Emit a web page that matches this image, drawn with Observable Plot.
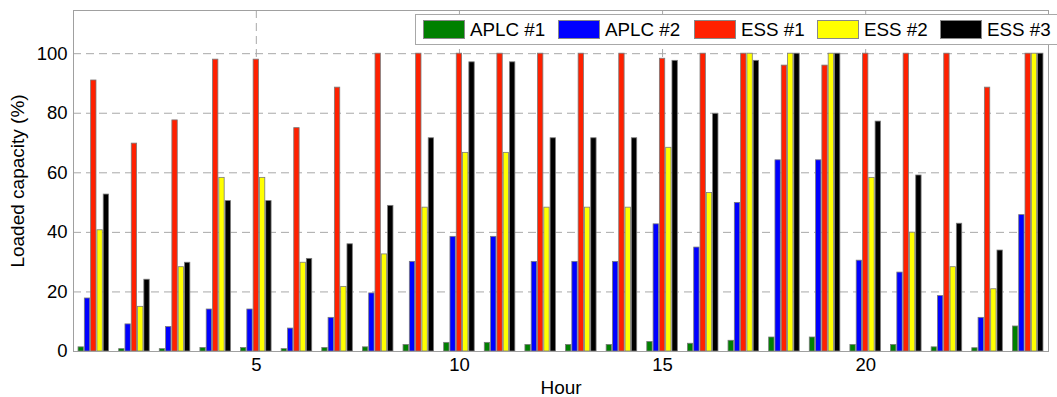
<!DOCTYPE html>
<html><head><meta charset="utf-8">
<script src="https://cdn.jsdelivr.net/npm/d3@7"></script>
<script src="https://cdn.jsdelivr.net/npm/@observablehq/plot@0.6"></script>
<style>
body{margin:0;background:#fff;font-family:"Liberation Sans",Arial,sans-serif;}
#wrap{position:relative;width:1057px;height:397px;overflow:hidden;}
#legend{position:absolute;left:415px;top:14px;height:31px;width:700px;border:1px solid #a8a8a8;background:#fff;box-sizing:border-box;}
.item{position:absolute;top:0;height:29px;display:flex;align-items:center}
.sw{width:42px;height:19px;border:1px solid #888;box-sizing:border-box;margin-right:5px}
.lb{font-size:18.8px;color:#000;white-space:nowrap}
</style></head><body><div id="wrap"></div>
<script>
const hours = [1,2,3,4,5,6,7,8,9,10,11,12,13,14,15,16,17,18,19,20,21,22,23,24];
const seriesNames = ["APLC #1","APLC #2","ESS #1","ESS #2","ESS #3"];
const seriesColors = ["#008000","#0000ff","#ff2000","#ffff00","#000000"];
const aplc1 = [1.4,0.8,0.8,1.2,1.2,0.8,1.2,1.4,2.2,2.9,2.9,2.2,2.2,2.2,3.2,2.6,3.6,4.7,4.7,2.2,2.2,1.4,1.1,8.4];
const aplc2 = [17.8,9.1,8.2,14.1,14.1,7.7,11.3,19.5,30.1,38.5,38.5,30.1,30.1,30.1,42.7,34.9,49.9,64.2,64.2,30.5,26.5,18.6,11.3,45.8];
const ess1 = [91.0,69.8,77.6,98.0,98.0,75.0,88.6,100,100,100,100,100,100,100,98.3,100,100,96.0,96.0,100,100,100,88.6,100];
const ess2 = [40.7,15.0,28.3,58.3,58.3,29.8,21.7,32.6,48.3,66.7,66.7,48.3,48.3,48.3,68.4,53.2,100,100,100,58.3,39.9,28.3,20.9,100];
const ess3 = [52.7,24.1,29.8,50.5,50.5,31.1,36.0,48.9,71.6,97.1,97.1,71.6,71.6,71.6,97.6,79.8,97.6,100,100,77.2,59.1,42.9,33.9,100];
const xTicks = [5,10,15,20];
const yTicks = [0,20,40,60,80,100];
const yGrid = [20,40,60,80,100];

const seriesValues = [aplc1, aplc2, ess1, ess2, ess3];
const table = [];
seriesValues.forEach((vals, si) => {
  hours.forEach((h, hi) => table.push({hour: h, series: seriesNames[si], idx: si, value: vals[hi]}));
});
const pitch = 0.155, halfW = 0.066;

const chart = Plot.plot({
  width: 1057, height: 397,
  marginLeft: 73, marginRight: 9, marginTop: 10, marginBottom: 46,
  style: {fontFamily: "'Liberation Sans', Arial, sans-serif", fontSize: "18.5px", color: "#000", background: "#fff"},
  x: {type: "linear", domain: [0.5, 24.5]},
  y: {domain: [0, 114.5]},
  color: {domain: seriesNames, range: seriesColors},
  marks: [
    Plot.gridY(yGrid, {stroke: "#a8a8a8", strokeOpacity: 1, strokeDasharray: "8,5"}),
    Plot.gridX(xTicks, {stroke: "#a8a8a8", strokeOpacity: 1, strokeDasharray: "8,5"}),
    Plot.rect(table, {
      x1: d => d.hour + (d.idx - 2) * pitch - halfW,
      x2: d => d.hour + (d.idx - 2) * pitch + halfW,
      y1: 0, y2: "value", fill: "series", stroke: "#7a7a7a", strokeWidth: 0.8
    }),
    Plot.frame({stroke: "#a0a0a0"}),
    Plot.axisY(yTicks, {tickSize: 0, tickPadding: 6, fontSize: 18.5, label: null}),
    Plot.axisY({label: "Loaded capacity (%)", ticks: [], tickSize: 0, fontSize: 19, labelAnchor: "center", labelArrow: false, labelOffset: 63}),
    Plot.axisX(xTicks, {tickSize: 0, tickPadding: 6, fontSize: 18.5, label: null}),
    Plot.axisX({label: "Hour", ticks: [], tickSize: 0, fontSize: 19, labelAnchor: "center", labelArrow: false, labelOffset: 42})
  ]
});
const wrap = document.getElementById("wrap");
wrap.appendChild(chart);
const legend = document.createElement("div");
legend.id = "legend";
const itemLeft = [7, 142, 278, 401, 524];
seriesNames.forEach((n, i) => {
  const it = document.createElement("div"); it.className = "item"; it.style.left = itemLeft[i] + "px";
  const sw = document.createElement("div"); sw.className = "sw"; sw.style.background = seriesColors[i];
  const lb = document.createElement("span"); lb.className = "lb"; lb.textContent = n;
  it.appendChild(sw); it.appendChild(lb); legend.appendChild(it);
});
wrap.appendChild(legend);
</script></body></html>
